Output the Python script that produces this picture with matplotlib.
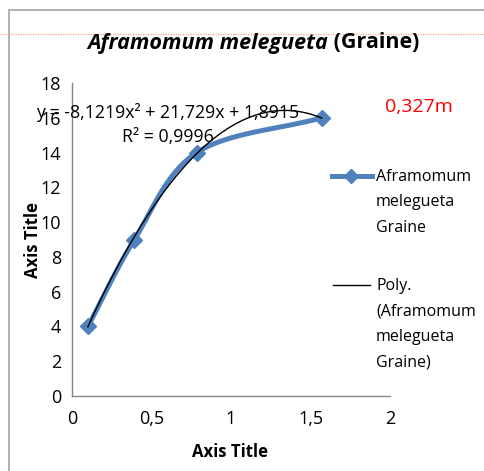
import numpy as np
import matplotlib.pyplot as plt
from matplotlib.lines import Line2D

# Data
x_vals = [0.1, 0.393, 0.785, 1.571]
y_vals = [4, 9, 14, 16]
poly_coef = [-8.1219, 21.729, 1.8915]
eq_text = 'y = -8,1219x² + 21,729x + 1,8915'
r2_text = 'R² = 0,9996'
x_ticks = [0, 0.5, 1, 1.5, 2]
x_labels = ['0', '0,5', '1', '1,5', '2']
y_ticks = list(range(0, 19, 2))
series_name = 'Aframomum\nmelegueta\nGraine'
trend_name = 'Poly.\n(Aframomum\nmelegueta\nGraine)'

plt.rcParams['font.family'] = ['Open Sans', 'DejaVu Sans']
blue = '#4F81BD'
grey = '#868686'
W, H = 484, 471


def fx(px):
    return px / W


def fy(py):
    return 1 - py / H


def smooth(xs, ys, n=30):
    # catmull-rom style curve through the points (like excel smoothed line)
    xs = np.asarray(xs, float)
    ys = np.asarray(ys, float)
    px = np.concatenate([[2 * xs[0] - xs[1]], xs, [2 * xs[-1] - xs[-2]]])
    py = np.concatenate([[2 * ys[0] - ys[1]], ys, [2 * ys[-1] - ys[-2]]])
    ox, oy = [], []
    t = np.linspace(0, 1, n)
    for i in range(1, len(px) - 2):
        for p, o in ((px, ox), (py, oy)):
            p0, p1, p2, p3 = p[i - 1], p[i], p[i + 1], p[i + 2]
            o.extend(0.5 * ((2 * p1) + (-p0 + p2) * t
                            + (2 * p0 - 5 * p1 + 4 * p2 - p3) * t ** 2
                            + (-p0 + 3 * p1 - 3 * p2 + p3) * t ** 3))
    return np.array(ox), np.array(oy)


fig = plt.figure(figsize=(W / 100, H / 100), dpi=100)

# chart frame and dotted guide line
fig.add_artist(plt.Rectangle((fx(9), -0.1), 1.0, fy(10) + 0.1,
                             transform=fig.transFigure, fill=False,
                             edgecolor='#A6A6A6', lw=1.2))
fig.add_artist(Line2D([0, 1], [fy(34)] * 2, transform=fig.transFigure,
                      color='#F4A582', lw=0.9, ls=(0, (1, 1))))

ax = fig.add_axes([fx(72), fy(396), (390 - 72) / W, (396 - 83) / H])

sx, sy = smooth(x_vals, y_vals)
ax.plot(sx, sy, color=blue, lw=3.6, solid_capstyle='round', zorder=2)
ax.plot(x_vals, y_vals, ls='none', marker='D', ms=8, color=blue, zorder=3)

tx = np.linspace(x_vals[0], x_vals[-1], 200)
ax.plot(tx, np.polyval(poly_coef, tx), color='black', lw=1, zorder=4)

ax.set_xlim(0, 2)
ax.set_ylim(0, 18)
ax.set_xticks(x_ticks)
ax.set_xticklabels(x_labels)
ax.set_yticks(y_ticks)
ax.tick_params(length=0, labelsize=13, pad=10)
ax.tick_params(axis='y', pad=8)
for s in ['top', 'right']:
    ax.spines[s].set_visible(False)
for s in ['left', 'bottom']:
    ax.spines[s].set_color(grey)
    ax.spines[s].set_linewidth(1)
ax.patch.set_alpha(0)

fig.text(fx(328), fy(43), 'Aframomum melegueta', fontsize=15.5,
         fontweight='bold', fontstyle='italic', ha='right', va='center')
fig.text(fx(328), fy(43), ' (Graine)', fontsize=15.5,
         fontweight='bold', ha='left', va='center')

fig.text(fx(230), fy(452), 'Axis Title', fontsize=12,
         fontweight='bold', ha='center', va='center')
fig.text(fx(33), fy(240), 'Axis Title', fontsize=12,
         fontweight='bold', ha='center', va='center', rotation=90)

fig.text(fx(36), fy(112), eq_text, fontsize=12.8, ha='left', va='center')
fig.text(fx(168), fy(137), r2_text, fontsize=12.8, ha='center', va='center')
fig.text(fx(385), fy(107), '0,327m', fontsize=14, color='red',
         ha='left', va='center')

# legend drawn manually
fig.add_artist(Line2D([fx(332), fx(372)], [fy(176)] * 2,
                      transform=fig.transFigure, color=blue, lw=3.6))
fig.add_artist(Line2D([fx(351)], [fy(176)], transform=fig.transFigure,
                      color=blue, marker='D', ms=7.5))
fig.text(fx(376), fy(169), series_name, fontsize=11.5, ha='left',
         va='top', linespacing=1.78)
fig.add_artist(Line2D([fx(333), fx(370)], [fy(285)] * 2,
                      transform=fig.transFigure, color='black', lw=1))
fig.text(fx(376), fy(278), trend_name, fontsize=11.5, ha='left',
         va='top', linespacing=1.78)

fig.savefig('out.png', dpi=100)
